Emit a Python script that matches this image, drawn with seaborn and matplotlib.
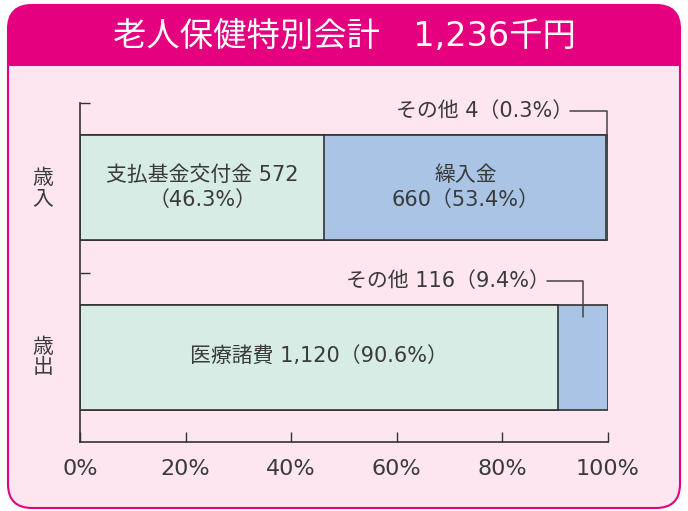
import matplotlib
matplotlib.use("Agg")
import matplotlib.pyplot as plt
import seaborn as sns
from matplotlib.patches import FancyBboxPatch, Rectangle

# data
TITLE = "老人保健特別会計　1,236千円"
CATEGORIES = ["歳入", "歳出"]
REV_NAMES = ["支払基金交付金", "繰入金", "その他"]
REV_VALUES = [572, 660, 4]
REV_PCT = [46.3, 53.4, 0.3]
EXP_NAMES = ["医療諸費", "その他"]
EXP_VALUES = [1120, 116]
EXP_PCT = [90.6, 9.4]
X_TICKS = [0, 20, 40, 60, 80, 100]
X_TICK_LABELS = ["0%", "20%", "40%", "60%", "80%", "100%"]

MAGENTA = "#E5007F"
PINK = "#FDE6EF"
GREEN = "#D6ECE5"
BLUE = "#AAC4E6"
EDGE = "#333333"
TEXT = "#3a3a3a"

sns.set_theme(style="white")
# 数字は幅の広い DejaVu、漢字は Noto CJK に任せる
plt.rcParams["font.family"] = ["DejaVu Sans", "Noto Sans CJK JP"]

W, H = 688, 511
fig = plt.figure(figsize=(W / 100, H / 100), dpi=100)

# 背景（角丸の枠とヘッダー）
bg = fig.add_axes([0, 0, 1, 1])
bg.set_xlim(0, W)
bg.set_ylim(H, 0)
bg.axis("off")
box = FancyBboxPatch((8, 5), 672, 503, boxstyle="round,pad=0,rounding_size=24",
                     fc=PINK, ec=MAGENTA, lw=1.5)
bg.add_patch(box)
header = Rectangle((0, 0), W, 66, fc=MAGENTA, ec="none")
bg.add_patch(header)
header.set_clip_path(box)
bg.text(W / 2, 37, TITLE, color="white", fontsize=24, ha="center", va="center")

# 本体のグラフ
ax = fig.add_axes([80 / W, 1 - 442 / H, 528 / W, 339 / H])
ax.patch.set_alpha(0)

segments = [
    (CATEGORIES[0], REV_PCT, [GREEN, BLUE, BLUE]),
    (CATEGORIES[1], EXP_PCT, [GREEN, BLUE]),
]
for cat, pcts, colors in segments:
    cums = []
    total = 0
    for p in pcts:
        total += p
        cums.append(total)
    cums[-1] = 100
    # 累積値の大きい順に重ねて積み上げ棒にする
    for cum, col in reversed(list(zip(cums, colors))):
        sns.barplot(x=[cum], y=[cat], order=CATEGORIES, orient="h", color=col,
                    width=0.62, edgecolor=EDGE, linewidth=1.2, ax=ax, saturation=1)

ax.set_xlim(0, 100)
ax.set_ylim(1.5, -0.5)
ax.set_xticks(X_TICKS)
ax.set_xticklabels(X_TICK_LABELS, fontsize=16, color=TEXT)
ax.set_yticks([-0.5, 0.5])
ax.set_yticklabels([])
ax.tick_params(axis="x", direction="in", length=7, width=1, color=EDGE, pad=12, bottom=True)
ax.tick_params(axis="y", direction="in", length=7, width=1, color=EDGE, left=True)
ax.set_xlabel("")
ax.set_ylabel("")
sns.despine(ax=ax, top=True, right=True)
for s in ["left", "bottom"]:
    ax.spines[s].set_color(EDGE)
    ax.spines[s].set_linewidth(1.2)

# 縦書きのカテゴリ名
for i, cat in enumerate(CATEGORIES):
    ax.text(-7, i, "\n".join(cat), ha="center", va="center", fontsize=15,
            color=TEXT, linespacing=1.0)

FS = 15
# 歳入のラベル
ax.text(REV_PCT[0] / 2, 0, f"{REV_NAMES[0]} {REV_VALUES[0]}\n（{REV_PCT[0]}%）",
        ha="center", va="center", fontsize=FS, color=TEXT, linespacing=1.3)
ax.text(REV_PCT[0] + REV_PCT[1] / 2, 0, f"{REV_NAMES[1]}\n{REV_VALUES[1]}（{REV_PCT[1]}%）",
        ha="center", va="center", fontsize=FS, color=TEXT, linespacing=1.3)
ax.text(93.4, -0.45, f"{REV_NAMES[2]} {REV_VALUES[2]}（{REV_PCT[2]}%）",
        ha="right", va="center", fontsize=FS, color=TEXT)
ax.plot([92.8, 99.9, 99.9], [-0.455, -0.455, -0.26], color="#444444", lw=1.1,
        clip_on=False)

# 歳出のラベル
ax.text(EXP_PCT[0] / 2, 1, f"{EXP_NAMES[0]} {EXP_VALUES[0]:,}（{EXP_PCT[0]}%）",
        ha="center", va="center", fontsize=FS, color=TEXT)
ax.text(89.0, 0.55, f"{EXP_NAMES[1]} {EXP_VALUES[1]}（{EXP_PCT[1]}%）",
        ha="right", va="center", fontsize=FS, color=TEXT)
mid = EXP_PCT[0] + EXP_PCT[1] / 2
ax.plot([88.4, mid, mid], [0.553, 0.553, 0.76], color="#444444", lw=1.1)

fig.savefig("out.png", dpi=100)
